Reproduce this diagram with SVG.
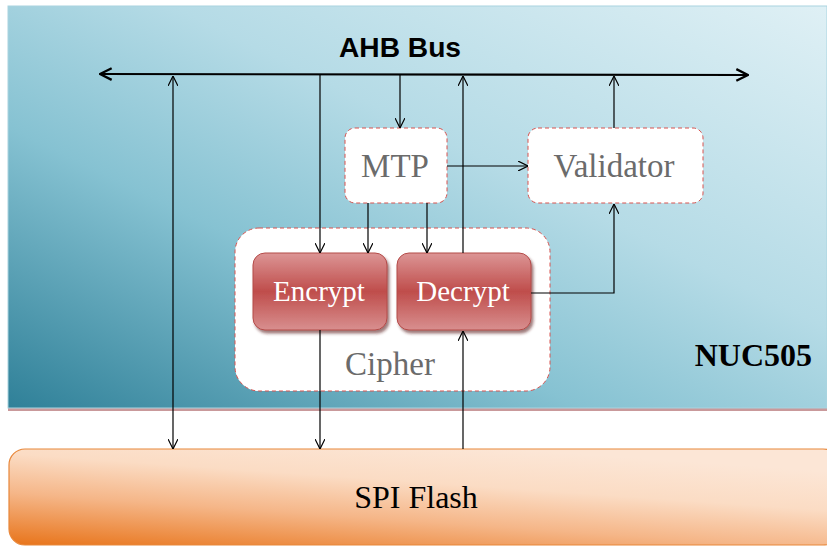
<svg xmlns="http://www.w3.org/2000/svg" width="827" height="547" viewBox="0 0 827 547">
<defs>
  <linearGradient id="chip" x1="0" y1="1" x2="1" y2="0">
    <stop offset="0" stop-color="#2f8098"/>
    <stop offset="0.35" stop-color="#86c2d2"/>
    <stop offset="0.6" stop-color="#b5dbe6"/>
    <stop offset="1" stop-color="#dff0f5"/>
  </linearGradient>
  <linearGradient id="flash" x1="0" y1="1" x2="0.6" y2="0">
    <stop offset="0" stop-color="#e8741a"/>
    <stop offset="0.4" stop-color="#f5b688"/>
    <stop offset="0.7" stop-color="#fbdcc4"/>
    <stop offset="1" stop-color="#fce6d6"/>
  </linearGradient>
  <linearGradient id="red" x1="0" y1="0" x2="0" y2="1">
    <stop offset="0" stop-color="#dc9595"/>
    <stop offset="0.5" stop-color="#bf4d4b"/>
    <stop offset="1" stop-color="#d88f8f"/>
  </linearGradient>
  <filter id="sh" x="-10%" y="-10%" width="130%" height="130%">
    <feDropShadow dx="2" dy="3" stdDeviation="1.5" flood-color="#5a1a1a" flood-opacity="0.6"/>
  </filter>
  <marker id="a" viewBox="0 0 10 10" refX="10" refY="5" markerWidth="10" markerHeight="10" markerUnits="userSpaceOnUse" orient="auto-start-reverse">
    <path d="M0,0 L10,5 L0,10" fill="none" stroke="#000" stroke-width="1.2"/>
  </marker>
  <marker id="ab" viewBox="0 0 12 12" refX="11" refY="6" markerWidth="14" markerHeight="14" markerUnits="userSpaceOnUse" orient="auto-start-reverse">
    <path d="M1,1 L11,6 L1,11" fill="none" stroke="#000" stroke-width="2"/>
  </marker>
</defs>
<style>
  .dash { fill:#fff; stroke:#d9534f; stroke-width:1; stroke-dasharray:4 3; }
  .gray { font-family:"Liberation Serif", serif; font-size:33px; fill:#6b6b6b; text-anchor:middle; }
  .white { font-family:"Liberation Serif", serif; font-size:29px; fill:#fff; text-anchor:middle; }
  .ln { stroke:#000; stroke-width:1.2; fill:none; }
</style>
<rect width="827" height="547" fill="#fff"/>
<g id="nuc505">
  <rect x="8" y="408" width="819" height="3" fill="#c9999b"/>
  <rect x="8" y="6" width="819" height="402" fill="url(#chip)" stroke="#a9d4e0" stroke-width="1"/>
  <text x="812" y="366" font-family="Liberation Serif, serif" font-size="32" font-weight="bold" text-anchor="end" fill="#000">NUC505</text>
</g>
<g id="spiflash">
  <rect x="9" y="449" width="830" height="96" rx="16" fill="url(#flash)" stroke="#e8873a" stroke-width="1.2"/>
  <text x="416" y="508" font-family="Liberation Serif, serif" font-size="32" text-anchor="middle" fill="#000">SPI Flash</text>
</g>
<g id="ahb">
  <text x="400" y="56.5" font-family="Liberation Sans, Arial, sans-serif" font-size="28" font-weight="bold" text-anchor="middle" fill="#000" textLength="122" lengthAdjust="spacingAndGlyphs">AHB Bus</text>
  <line x1="100" y1="74" x2="748" y2="75" stroke="#000" stroke-width="2.2" marker-start="url(#ab)" marker-end="url(#ab)"/>
</g>
<g id="cipher">
  <rect x="235" y="228" width="315" height="163" rx="24" class="dash"/>
  <text x="390" y="375" class="gray">Cipher</text>
</g>
<g id="mtp">
  <rect x="345" y="128" width="102" height="75" rx="10" class="dash"/>
  <text x="395" y="177" class="gray">MTP</text>
</g>
<g id="validator">
  <rect x="528" y="128" width="175" height="75" rx="10" class="dash"/>
  <text x="614" y="177" class="gray">Validator</text>
</g>
<g id="encrypt">
  <rect x="253" y="253" width="134" height="77" rx="12" fill="url(#red)" stroke="#b44a48" stroke-width="1" filter="url(#sh)"/>
  <text x="319" y="301" class="white">Encrypt</text>
</g>
<g id="decrypt">
  <rect x="397" y="253" width="134" height="77" rx="12" fill="url(#red)" stroke="#b44a48" stroke-width="1" filter="url(#sh)"/>
  <text x="463" y="301" class="white">Decrypt</text>
</g>
<g id="connectors">
  <line class="ln" x1="173" y1="76" x2="173" y2="449" marker-start="url(#a)" marker-end="url(#a)"/>
  <line class="ln" x1="320" y1="75" x2="320" y2="253" marker-end="url(#a)"/>
  <line class="ln" x1="400" y1="75" x2="400" y2="128" marker-end="url(#a)"/>
  <line class="ln" x1="463" y1="253" x2="463" y2="76" marker-end="url(#a)"/>
  <line class="ln" x1="614" y1="128" x2="614" y2="76" marker-end="url(#a)"/>
  <line class="ln" x1="447" y1="166" x2="528" y2="166" marker-end="url(#a)"/>
  <line class="ln" x1="368" y1="203" x2="368" y2="253" marker-end="url(#a)"/>
  <line class="ln" x1="427" y1="203" x2="427" y2="253" marker-end="url(#a)"/>
  <polyline class="ln" points="531,293 614,293 614,204" marker-end="url(#a)"/>
  <line class="ln" x1="320" y1="330" x2="320" y2="449" marker-end="url(#a)"/>
  <line class="ln" x1="463" y1="449" x2="463" y2="331" marker-end="url(#a)"/>
</g>
</svg>
